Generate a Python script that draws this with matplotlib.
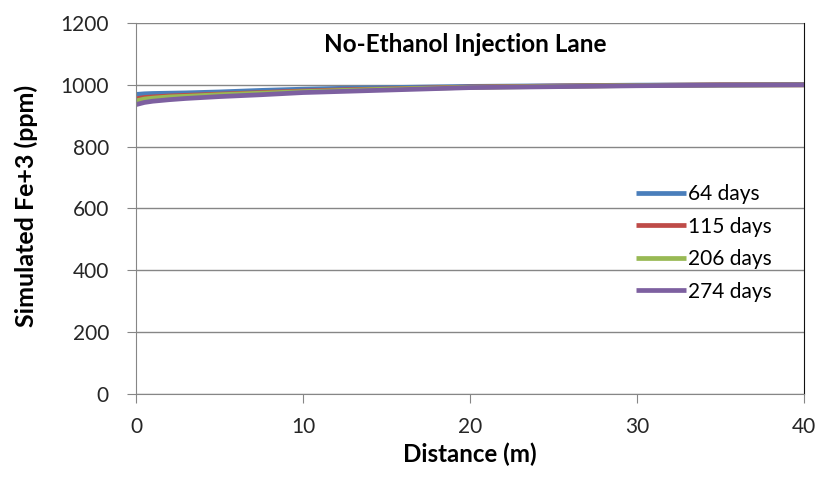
import matplotlib.pyplot as plt

plt.rcParams['font.family'] = ['Lato', 'DejaVu Sans']

distance = [0, 0.5, 1, 2, 3, 5, 7.5, 10, 12.5, 15, 17.5, 20, 25, 30, 35, 40]
series_labels = ["64 days", "115 days", "206 days", "274 days"]
fe_64 = [969, 971, 972, 973, 974, 977, 982, 986, 989, 991, 993, 995, 997, 999, 1000, 1001]
fe_115 = [955, 959, 961, 964, 966, 970, 975, 980, 984, 987, 990, 993, 996, 998, 1000, 1000]
fe_206 = [948, 954, 957, 961, 963, 968, 973, 978, 982, 986, 989, 992, 995, 998, 999, 1000]
fe_274 = [936, 943, 947, 952, 956, 962, 968, 975, 979, 983, 987, 991, 994, 997, 999, 1000]
colors = ["#4A7EBB", "#BE4B48", "#98B954", "#7D60A0"]

fig = plt.figure(figsize=(8.2, 4.83), dpi=100)
# plot area: x 136..804 px, y 23..394 px
ax = fig.add_axes([136 / 820, 89 / 483, 668 / 820, 371 / 483])

for vals, lab, c in zip([fe_64, fe_115, fe_206, fe_274], series_labels, colors):
    ax.plot(distance, vals, color=c, lw=3.4, label=lab, solid_capstyle="butt")

ax.set_xlim(0, 40)
ax.set_ylim(0, 1200)
ax.set_xticks([0, 10, 20, 30, 40])
ax.set_yticks(range(0, 1201, 200))
ax.yaxis.grid(True, color="#868686", lw=1)
ax.set_axisbelow(True)
for s in ["left", "bottom"]:
    ax.spines[s].set_color("#868686")
ax.spines["top"].set_visible(False)
ax.spines["right"].set_color("#111111")
ax.tick_params(axis="both", direction="out", length=6.5, color="#868686",
               labelsize=15, labelcolor="#262626")
ax.tick_params(axis="y", pad=13)
ax.tick_params(axis="x", pad=10)

ax.set_xlabel("Distance (m)", fontsize=17.4, fontweight="bold")
ax.xaxis.set_label_coords(0.5, -0.13)
ax.set_ylabel("Simulated Fe+3 (ppm)", fontsize=18, fontweight="bold")
ax.yaxis.set_label_coords(-0.147, 0.507)
ax.text(0.493, 0.941, "No-Ethanol Injection Lane", transform=ax.transAxes,
        ha="center", va="center", fontsize=17.5, fontweight="bold")

ax.legend(loc="upper left", bbox_to_anchor=(0.749, 0.566), frameon=False,
          fontsize=15, handlelength=2.4, handletextpad=0.1, labelspacing=0.6,
          borderpad=0, borderaxespad=0)

fig.savefig("out.png", dpi=100)
